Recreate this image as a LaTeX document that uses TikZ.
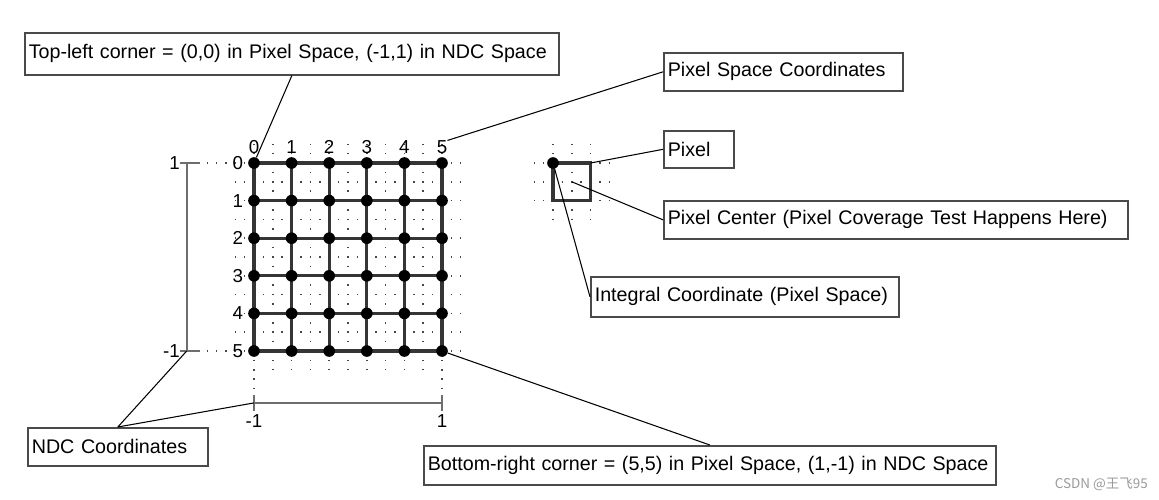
\documentclass[tikz,border=0pt]{standalone}
\usepackage{fontspec}
\setmainfont{Liberation Sans}
\newfontfamily\cjkfont{Noto Sans CJK SC}
\usetikzlibrary{positioning, calc}
\definecolor{FrameGray}{HTML}{4A4A4A}
\definecolor{GridGray}{HTML}{353535}
\definecolor{AxisGray}{HTML}{6E6E6E}
\definecolor{DotGray}{HTML}{484848}
\definecolor{MarkGray}{HTML}{9A9A9A}
\tikzset{
  callout/.style={draw=FrameGray, line width=1.4pt, anchor=north west, align=left, inner xsep=0.12cm, inner ysep=0pt, font=\fontsize{16.8}{20}\selectfont},
  ticklabel/.style={inner sep=0pt, font=\fontsize{16}{18}\selectfont},
  vertex/.style={circle, fill=black, inner sep=0pt, minimum size=0.35cm},
  gridline/.style={draw=GridGray, line width=2.6pt},
  axisline/.style={draw=AxisGray, line width=2pt},
  dotgrid/.style={draw=DotGray, line width=1.4pt, dash pattern=on 1.4pt off 6.624pt, dash phase=0.7pt},
  leader/.style={draw=black, line width=0.9pt}
}

\begin{document}
\begin{tikzpicture}[x=0.03cm, y=-0.03cm]
\useasboundingbox (0,0) rectangle (1159,499);

% pixel grid
\begin{scope}[shift={(254,163)}, x=1.128cm, y=-1.128cm]
  \foreach \k in {0,...,10} {
    \draw[dotgrid] (-0.5,\k/2) -- (5.5,\k/2);
    \draw[dotgrid] (\k/2,-0.5) -- (\k/2,5.5);
  }
  \draw[dotgrid] (-1.25,0) -- (-0.5,0);
  \draw[dotgrid] (-1.25,5) -- (-0.5,5);
  \draw[dotgrid] (0,5.5) -- (0,6);
  \draw[dotgrid] (5,5.5) -- (5,6);
  \foreach \k in {0,...,5} {
    \draw[gridline] (0,\k) -- (5,\k);
    \draw[gridline] (\k,0) -- (\k,5);
  }
  \foreach \i in {0,...,5}
    \foreach \j in {0,...,5}
      \node[vertex] (v\i\j) at (\i,\j) {};
  \foreach \k in {0,...,5} {
    \node[ticklabel] (col\k) at (\k,-0.42) {\k};
    \node[ticklabel] (row\k) at (-0.43,\k) {\k};
  }
  % NDC axes
  \coordinate (ndcTop) at (-1.79,0);
  \coordinate (ndcBot) at (-1.79,5);
  \coordinate (ndcLeft) at (0,6.38);
  \coordinate (ndcRight) at (5,6.38);
  \draw[axisline] (ndcTop) -- (ndcBot);
  \draw[axisline] (-1.97,0) -- (-1.44,0);
  \draw[axisline] (-1.97,5) -- (-1.44,5);
  \draw[axisline] (ndcLeft) -- (ndcRight);
  \draw[axisline] (0,6.17) -- (0,6.6);
  \draw[axisline] (5,6.17) -- (5,6.6);
  \node[ticklabel, anchor=east] (ndcUp) at (-1.97,0) {1};
  \node[ticklabel, anchor=east] (ndcDown) at (-1.97,5) {-1};
  \node[ticklabel, anchor=north] (ndcMinus) at (0,6.68) {-1};
  \node[ticklabel, anchor=north] (ndcPlus) at (5,6.68) {1};
\end{scope}

% single pixel
\begin{scope}[shift={(553,163)}, x=1.128cm, y=-1.128cm]
  \foreach \k in {0,1,2} {
    \draw[dotgrid] (-0.5,\k/2) -- (1.5,\k/2);
    \draw[dotgrid] (\k/2,-0.5) -- (\k/2,1.5);
  }
  \draw[gridline] (0,0) rectangle (1,1);
  \node[vertex] (pxCorner) at (0,0) {};
  \coordinate (pxCenter) at (0.5,0.5);
  \coordinate (pxEdge) at (1,0);
\end{scope}

\node[callout, text width=15.78cm, minimum height=1.26cm] (tlBox) at (24,32) {Top-left corner = (0,0) in Pixel Space, (-1,1) in NDC Space};
\node[callout, text width=6.93cm, minimum height=1.14cm] (pscBox) at (663,52) {Pixel Space Coordinates};
\node[callout, text width=1.86cm, minimum height=1.11cm] (pixBox) at (663,130) {Pixel};
\node[callout, text width=13.68cm, minimum height=1.14cm] (ctrBox) at (663,200) {Pixel Center (Pixel Coverage Test Happens Here)};
\node[callout, text width=9cm, minimum height=1.2cm] (intBox) at (590,276) {Integral Coordinate (Pixel Space)};
\node[callout, text width=5.16cm, minimum height=1.14cm] (ndcBox) at (27,427) {NDC Coordinates};
\node[callout, text width=16.92cm, minimum height=1.17cm] (brBox) at (423,445) {Bottom-right corner = (5,5) in Pixel Space, (1,-1) in NDC Space};

\draw[leader] (tlBox.south) -- (v00);
\draw[leader] (pscBox.west) -- (col5.north east);
\draw[leader] (pixBox.west) -- (pxEdge);
\draw[leader] (ctrBox.west) -- (pxCenter);
\draw[leader] (intBox.west) -- (pxCorner);
\draw[leader] (ndcBox.north) -- (ndcBot);
\draw[leader] (ndcBox.north) -- (ndcLeft);
\draw[leader] (brBox.north) -- (v55);

\node[font=\cjkfont\fontsize{11.5}{13}\selectfont, text=MarkGray, anchor=east] (mark) at (1152,484) {CSDN @王飞95};
\end{tikzpicture}
\end{document}
